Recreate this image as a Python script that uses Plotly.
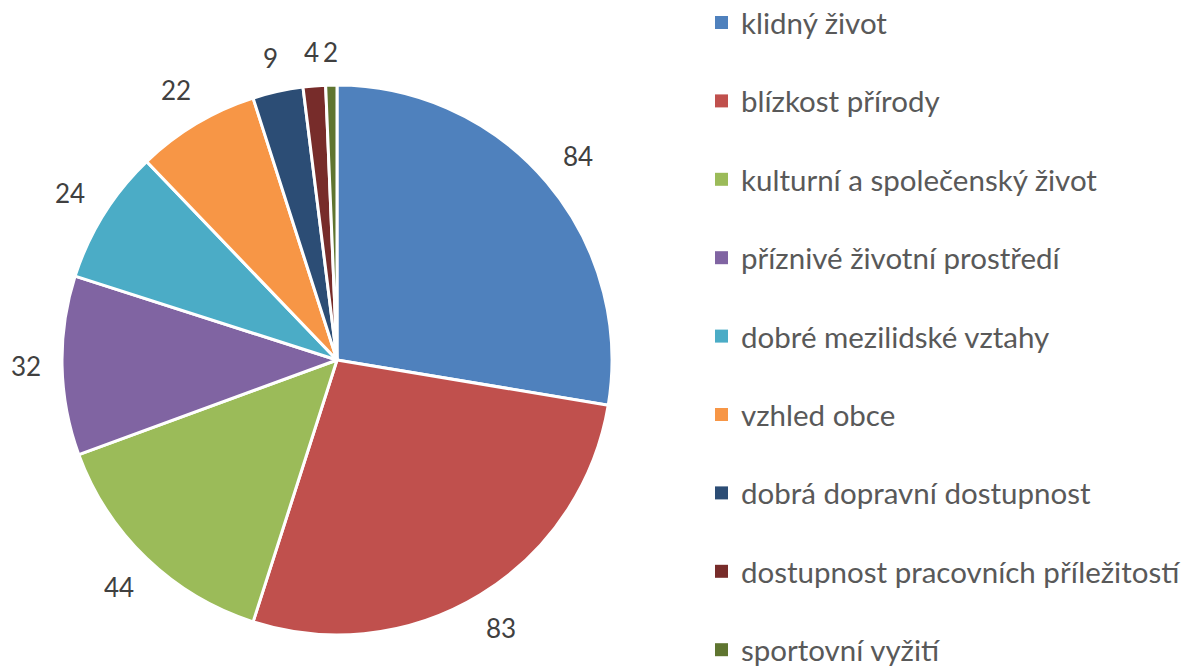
import math
import plotly.graph_objects as go

labels = ["klidný život", "blízkost přírody", "kulturní a společenský život",
          "příznivé životní prostředí", "dobré mezilidské vztahy", "vzhled obce",
          "dobrá dopravní dostupnost", "dostupnost pracovních příležitostí",
          "sportovní vyžití"]
values = [84, 83, 44, 32, 24, 22, 9, 4, 2]
colors = ["#4F81BD", "#C0504D", "#9BBB59", "#8064A2", "#4BACC6", "#F79646",
          "#2C4D75", "#772C2A", "#5F7530"]

W, H = 1184, 666
FONT = "Lato"
TXT = "#595959"
LBL = "#404040"

# pie geometry (pixels)
CX, CY, R = 337, 360, 275

fig = go.Figure(go.Pie(
    labels=labels, values=values, sort=False, direction="clockwise", rotation=0,
    marker=dict(colors=colors, line=dict(color="white", width=3)),
    textinfo="none", hoverinfo="label+value",
    domain=dict(x=[(CX - R) / W, (CX + R) / W], y=[(H - CY - R) / H, (H - CY + R) / H]),
    showlegend=False,
))

# value labels placed outside each slice end, from the slice mid-angles
total = sum(values)
cum = 0
for v in values:
    mid = (cum + v / 2) / total * 2 * math.pi
    cum += v
    s, c = math.sin(mid), math.cos(mid)
    hw = 7.5 * len(str(v))
    d = R + 21 + abs(s) * hw + abs(c) * 12
    px, py = CX + d * s, CY - d * c
    fig.add_annotation(xref="paper", yref="paper", x=px / W, y=1 - py / H,
                       xanchor="center", yanchor="middle", showarrow=False,
                       text=str(v), font=dict(family=FONT, size=26, color=LBL))

# legend built from the label list
top, step = 22.5, 78.4
for i, (lab, col) in enumerate(zip(labels, colors)):
    yc = top + i * step
    fig.add_shape(type="rect", xref="paper", yref="paper",
                  x0=715 / W, x1=728 / W, y0=1 - (yc - 6.5) / H, y1=1 - (yc + 6.5) / H,
                  fillcolor=col, line=dict(width=0))
    fig.add_annotation(xref="paper", yref="paper", x=739 / W, y=1 - yc / H,
                       xanchor="left", yanchor="middle", showarrow=False,
                       text=lab, font=dict(family=FONT, size=29.5, color=TXT))

fig.update_layout(width=W, height=H, margin=dict(l=0, r=0, t=0, b=0),
                  paper_bgcolor="white", plot_bgcolor="white")
fig.write_html("out.html", config={"displayModeBar": False})

with open("out.html", encoding="utf-8") as f:
    html = f.read()
html = html.replace("<head>", "<head><style>html,body{margin:0;padding:0;overflow:hidden}</style>", 1)
with open("out.html", "w", encoding="utf-8") as f:
    f.write(html)
